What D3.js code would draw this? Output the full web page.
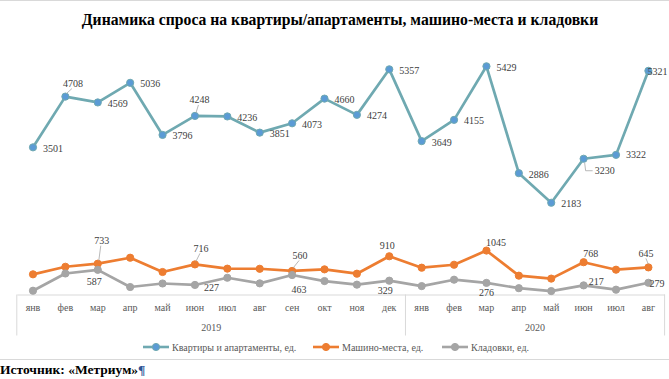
<!DOCTYPE html>
<html><head><meta charset="utf-8">
<script src="https://cdn.jsdelivr.net/npm/d3@7"></script>
<style>
html,body{margin:0;padding:0;background:#fff;}
svg{display:block;}
</style></head>
<body>
<svg id="c" width="669" height="379"></svg>
<script>
const months = ["янв","фев","мар","апр","май","июн","июл","авг","сен","окт","ноя","дек","янв","фев","мар","апр","май","июн","июл","авг"];
const years = ["2019","2020"];
const yearOf = [0,0,0,0,0,0,0,0,0,0,0,0,1,1,1,1,1,1,1,1];
const flats = [3501,4708,4569,5036,3796,4248,4236,3851,4073,4660,4274,5357,3649,4155,5429,2886,2183,3230,3322,5321];
const parking = [480,660,733,875,535,716,615,612,560,598,495,910,638,708,1045,448,378,768,590,645];
const storage = [90,500,587,178,262,227,398,265,463,320,234,329,200,352,276,150,82,217,115,279];
const seriesNames = ["Квартиры и апартаменты, ед.","Машино-места, ед.","Кладовки, ед."];
const title = "Динамика спроса на квартиры/апартаменты, машино-места и кладовки";
const source = "Источник: «Метриум»";

const svg = d3.select("#c");
const font = "'Liberation Serif','Times New Roman',serif";
const W = 669;

svg.append("line").attr("x1",0).attr("x2",W).attr("y1",0.5).attr("y2",0.5).attr("stroke","#d9d9d9");

svg.append("text").attr("x",340).attr("y",25).attr("text-anchor","middle")
  .attr("font-family",font).attr("font-weight","bold").attr("font-size",15.7).attr("fill","#000").text(title);

const keys = months.map((m,i)=>i);
const x = d3.scaleBand().domain(keys).range([16.8,664.6]).padding(0);
const cx = i => x(i) + x.bandwidth()/2;
const y = d3.scaleLinear().domain([0,6000]).range([294.5,42.3]);

const axisY = y(0);
const gAxis = svg.append("g").attr("transform",`translate(0,${axisY})`)
  .call(d3.axisBottom(x).tickSize(0).tickFormat(i=>months[i]));
gAxis.select(".domain").attr("stroke","#d9d9d9");
gAxis.selectAll("text").attr("font-family",font).attr("font-size",10).attr("fill","#595959").attr("dy","1.35em");

// year brackets
const yearBounds = years.map((yr,k)=>{
  const idx = keys.filter(i=>yearOf[i]===k);
  return {yr, x0:x(idx[0]), x1:x(idx[idx.length-1])+x.bandwidth()};
});
const boxBottom = axisY + 41;
const edges = [yearBounds[0].x0, yearBounds[0].x1, yearBounds[1].x1];
svg.selectAll(".vline").data(edges).enter().append("line")
  .attr("x1",d=>d).attr("x2",d=>d).attr("y1",axisY).attr("y2",boxBottom).attr("stroke","#d9d9d9");
svg.selectAll(".yr").data(yearBounds).enter().append("text")
  .attr("x",d=>(d.x0+d.x1)/2).attr("y",axisY+36).attr("text-anchor","middle")
  .attr("font-family",font).attr("font-size",10).attr("fill","#595959").text(d=>d.yr);

const colors = ["#6fa9b1","#ed7d31","#a5a5a5"];
const markerFill = ["#5b9bd5","#ed7d31","#a5a5a5"];
const data = [flats,parking,storage];
const line = d3.line().x((d,i)=>cx(i)).y(d=>y(d));

data.forEach((arr,s)=>{
  svg.append("path").datum(arr).attr("d",line).attr("fill","none")
    .attr("stroke",colors[s]).attr("stroke-width",2.7).attr("stroke-linejoin","round");
});
data.forEach((arr,s)=>{
  svg.selectAll(".m"+s).data(arr).enter().append("circle")
    .attr("cx",(d,i)=>cx(i)).attr("cy",d=>y(d)).attr("r",3.6)
    .attr("fill",markerFill[s]).attr("stroke",colors[s]).attr("stroke-width",1);
});

// label placement (layout only): [series, index, dx, dy, anchor, leader]
const place = [
  [0,0,10,1,"start"],[0,1,7.5,-13,"middle","line"],[0,2,10,1,"start"],[0,3,10,1,"start"],
  [0,4,10,1,"start"],[0,5,4.5,-16,"middle","line"],[0,6,10,1,"start"],[0,7,10,1,"start"],
  [0,8,10,1,"start"],[0,9,10,1,"start"],[0,10,10,1,"start"],[0,11,10,1,"start"],
  [0,12,10,1,"start"],[0,13,10,1,"start"],[0,14,10,1,"start"],[0,15,10,1,"start"],
  [0,16,10,1,"start"],[0,17,11,12,"start","elbow"],[0,18,10,0,"start"],[0,19,-1,0.5,"start"],
  [1,2,4,-23,"middle","line"],[1,5,6,-16,"middle","line"],[1,8,8,-15.5,"middle","line"],
  [1,11,-2,-10.5,"middle"],[1,14,9.5,-8,"middle"],[1,17,7,-9,"middle"],[1,19,-2.5,-14,"middle","line"],
  [2,2,-3.5,12,"middle"],[2,5,9,2.5,"start"],[2,8,7,14.5,"middle"],[2,11,-4,9.5,"middle"],
  [2,14,0,9.5,"middle"],[2,17,5,-4,"start"],[2,19,1,1,"start"]
];
const gl = svg.append("g");
place.forEach(([s,i,dx,dy,anchor,leader])=>{
  const v = data[s][i];
  const px = cx(i), py = y(v);
  const tx = px+dx, ty = py+dy;
  if(leader==="line"){
    gl.append("line").attr("x1",px+(dx>0?1:0)).attr("y1",py-3)
      .attr("x2",tx+(dx>0?-1:0)).attr("y2",ty+5).attr("stroke","#a6a6a6").attr("stroke-width",0.8);
  } else if(leader==="elbow"){
    gl.append("path").attr("d",`M${px+1},${py+4}L${px+2},${ty}L${tx-2},${ty}`)
      .attr("fill","none").attr("stroke","#a6a6a6").attr("stroke-width",0.8);
  }
  gl.append("text").attr("x",tx).attr("y",ty).attr("dy","0.35em").attr("text-anchor",anchor)
    .attr("font-family",font).attr("font-size",10).attr("fill","#404040").text(v);
});

// legend
const legendX = [143,313,442];
const legY = 347;
seriesNames.forEach((n,s)=>{
  const g = svg.append("g").attr("transform",`translate(${legendX[s]},${legY})`);
  g.append("line").attr("x1",0).attr("x2",26).attr("y1",0).attr("y2",0).attr("stroke",colors[s]).attr("stroke-width",2.6);
  g.append("circle").attr("cx",13).attr("cy",0).attr("r",3.6).attr("fill",markerFill[s]).attr("stroke",colors[s]);
  g.append("text").attr("x",29).attr("y",0).attr("dy","0.35em").attr("font-family",font).attr("font-size",10)
    .attr("fill","#595959").text(n);
});

svg.append("line").attr("x1",0).attr("x2",W).attr("y1",359.5).attr("y2",359.5).attr("stroke","#d9d9d9");
const st = svg.append("text").attr("x",0).attr("y",374).attr("font-family",font).attr("font-weight","bold")
  .attr("font-size",13.5).attr("fill","#000").text(source);
st.append("tspan").attr("fill","#2f5496").text("¶");
</script>
</body></html>
